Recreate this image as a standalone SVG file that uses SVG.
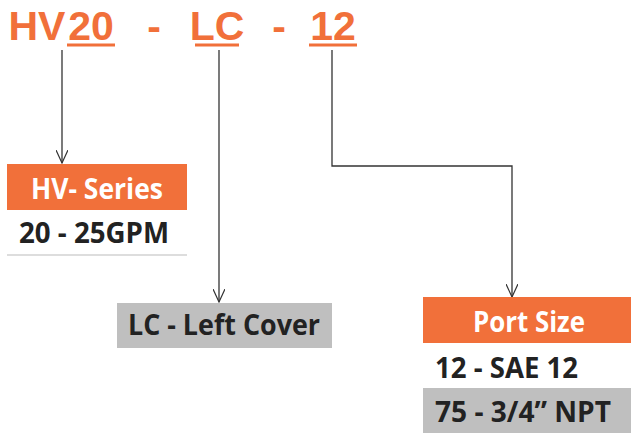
<svg xmlns="http://www.w3.org/2000/svg" width="631" height="434" viewBox="0 0 631 434">
<style>
.t{font-family:"Open Sans","Liberation Sans",sans-serif;font-weight:bold}
.title{font-family:"Liberation Sans",Arial,sans-serif;font-weight:bold;fill:#f1703a;font-size:41px;text-anchor:middle}
.w{fill:#ffffff;font-size:29px}
.d{fill:#222222;font-size:29px}
.ul{stroke:#f1703a;stroke-width:3}
.c{fill:none;stroke:#333333;stroke-width:1.3}
</style>
<defs>
<marker id="ah" viewBox="0 0 14 12" refX="13" refY="6" markerWidth="14" markerHeight="12" markerUnits="userSpaceOnUse" orient="auto">
<path d="M0,0 L13,6 L0,12" fill="none" stroke="#333333" stroke-width="1.2"/>
</marker>
</defs>
<rect width="631" height="434" fill="#ffffff"/>
<g id="title">
<text class="title" x="37" y="40">HV</text>
<text class="title" x="91" y="40">20</text>
<text class="title" x="154" y="40">-</text>
<text class="title" x="217" y="40">LC</text>
<text class="title" x="279" y="40">-</text>
<text class="title" x="333" y="40">12</text>
<line class="ul" x1="67" y1="45" x2="115" y2="45"/>
<line class="ul" x1="195" y1="45" x2="239" y2="45"/>
<line class="ul" x1="309" y1="45" x2="357" y2="45"/>
</g>
<g id="connectors">
<path class="c" d="M62,50 V163" marker-end="url(#ah)"/>
<path class="c" d="M219,50 V302" marker-end="url(#ah)"/>
<path class="c" d="M332,50 V166 H512 V297" marker-end="url(#ah)"/>
</g>
<g id="hv-series">
<rect x="7" y="164" width="180" height="46" fill="#f1703a"/>
<text class="t w" x="97" y="199" text-anchor="middle" textLength="132" lengthAdjust="spacingAndGlyphs">HV- Series</text>
<text class="t d" x="19" y="243" textLength="150" lengthAdjust="spacingAndGlyphs">20 - 25GPM</text>
<line x1="7" y1="255" x2="187" y2="255" stroke="#dddddd" stroke-width="2"/>
</g>
<g id="left-cover">
<rect x="117" y="303" width="215" height="45" fill="#bfbfbf"/>
<text class="t d" x="224" y="335" text-anchor="middle" textLength="192" lengthAdjust="spacingAndGlyphs">LC - Left Cover</text>
</g>
<g id="port-size">
<rect x="423" y="297" width="208" height="46" fill="#f1703a"/>
<text class="t w" x="529" y="332" text-anchor="middle" textLength="112" lengthAdjust="spacingAndGlyphs">Port Size</text>
<text class="t d" x="435" y="378" textLength="143" lengthAdjust="spacingAndGlyphs">12 - SAE 12</text>
<rect x="423" y="388" width="208" height="45" fill="#bfbfbf"/>
<text class="t d" x="435" y="422" textLength="176" lengthAdjust="spacingAndGlyphs">75 - 3/4” NPT</text>
</g>
</svg>
